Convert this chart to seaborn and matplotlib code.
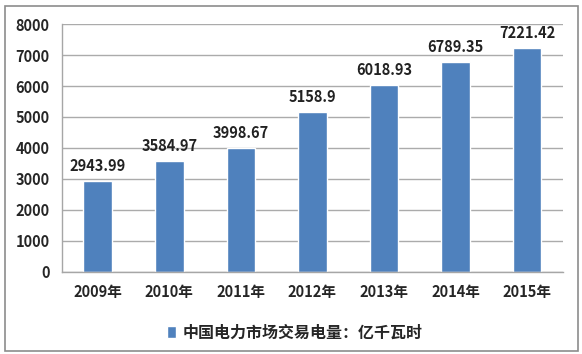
import seaborn as sns
import matplotlib.pyplot as plt
import numpy as np
from matplotlib.patches import Rectangle

# Datos
years = ["2009年", "2010年", "2011年", "2012年", "2013年", "2014年", "2015年"]
volume = [2943.99, 3584.97, 3998.67, 5158.9, 6018.93, 6789.35, 7221.42]
value_labels = ["2943.99", "3584.97", "3998.67", "5158.9", "6018.93", "6789.35", "7221.42"]
series_name = "中国电力市场交易电量：亿千瓦时"

sns.set_style("white")
plt.rcParams["font.family"] = ["Noto Sans CJK SC", "DejaVu Sans"]
plt.rcParams["font.weight"] = "bold"

fig = plt.figure(figsize=(5.82, 3.54), dpi=100)
ax = fig.add_axes([0.1065, 0.232, 0.8605, 0.700])

sns.barplot(x=years, y=volume, color="#4F81BD", width=0.4,
            saturation=1, ax=ax, label=series_name)
ax.bar_label(ax.containers[0], labels=value_labels, padding=5,
             fontsize=10.5, fontweight="bold", color="#222222")

ax.set_ylim(0, 8000)
ax.set_yticks(np.arange(0, 8001, 1000))
ax.set_xlim(-0.5, len(years) - 0.5)
ax.yaxis.grid(True, color="#ABABAB", linewidth=1)
ax.set_axisbelow(True)
for s in ["top", "right"]:
    ax.spines[s].set_visible(False)
for s in ["left", "bottom"]:
    ax.spines[s].set_color("#A6A6A6")
    ax.spines[s].set_linewidth(1)

ax.tick_params(axis="y", length=5, color="#A6A6A6", labelsize=10.5, pad=4)
ax.tick_params(axis="x", length=0, labelsize=10.5, pad=9)
ax.set_xticks(np.arange(-0.5, len(years), 1), minor=True)
ax.tick_params(axis="x", which="minor", length=5, color="#A6A6A6")
for lbl in ax.get_xticklabels() + ax.get_yticklabels():
    lbl.set_fontweight("bold")

leg = ax.legend(loc="center", bbox_to_anchor=(0.465, -0.245), frameon=False,
                fontsize=11.5, handlelength=0.6, handleheight=0.7,
                handletextpad=0.4)
for t in leg.get_texts():
    t.set_fontweight("bold")

# Marco exterior
fig.patches.append(Rectangle((5 / 582, 3 / 354), 573 / 582, 345 / 354,
                             transform=fig.transFigure, fill=False,
                             edgecolor="#8C8C8C", linewidth=1.2))

fig.savefig("out.png", dpi=100)
